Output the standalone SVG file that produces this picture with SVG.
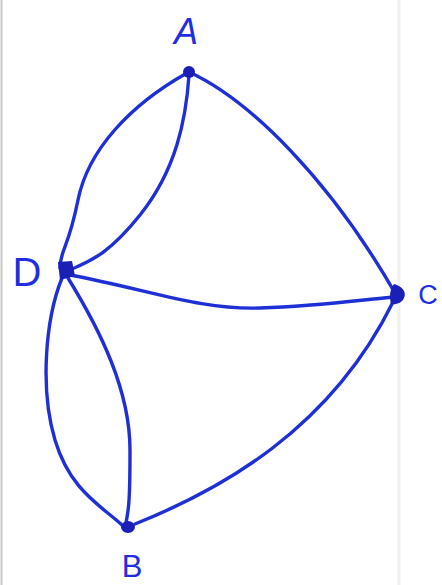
<svg xmlns="http://www.w3.org/2000/svg" width="442" height="585" viewBox="0 0 442 585">
<style>
.edge{fill:none;stroke:#1f2fd6;stroke-width:3.4;stroke-linecap:round}
.node{fill:#1a1fb8}
.lbl{font-family:"Liberation Sans","DejaVu Sans",sans-serif;fill:#1f2fe0;text-anchor:middle}
</style>
<rect width="442" height="585" fill="#ffffff"/>
<line x1="1.5" y1="0" x2="1.5" y2="585" stroke="#c8c8c8" stroke-width="2"/>
<line x1="399" y1="0" x2="399" y2="585" stroke="#f0f0f0" stroke-width="3"/>
<g id="connectors">
<path class="edge" d="M189,72 C250,100 330,180 395,293"/>
<path class="edge" d="M187,73 C130,105 88,150 78,200 S60,250 60,268"/>
<path class="edge" d="M189,75 C186,120 176,170 140,215 S85,262 68,271"/>
<path class="edge" d="M70,275 C150,290 200,310 260,308 S360,300 394,297"/>
<path class="edge" d="M62,278 C45,320 40,390 55,440 S100,505 122,525"/>
<path class="edge" d="M68,278 C100,330 130,390 130,450 S128,510 126,523"/>
<path class="edge" d="M135,524 C220,490 330,430 393,302"/>
</g>
<g id="A"><circle class="node" cx="189" cy="72" r="6"/><text class="lbl" x="186" y="44" font-size="36" font-style="italic">A</text></g>
<g id="D"><path class="node" d="M58,262 L72,261 L75,276 L60,280 Z"/><text class="lbl" x="27" y="286" font-size="40">D</text></g>
<g id="C"><path class="node" d="M394,284 C402,286 407,292 404,298 C402,303 396,305 391,304 C389,296 390,289 394,284 Z"/><text class="lbl" x="428" y="304" font-size="27">C</text></g>
<g id="B"><ellipse class="node" cx="128" cy="527" rx="7" ry="6"/><text class="lbl" x="132" y="577" font-size="31">B</text></g>
</svg>
